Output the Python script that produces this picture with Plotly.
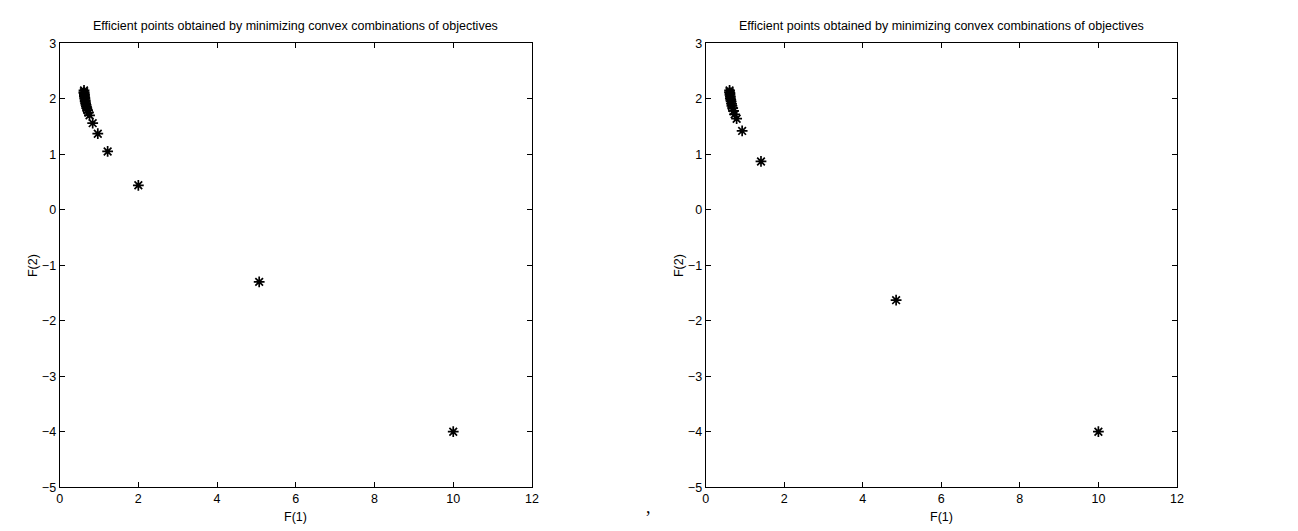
import plotly.graph_objects as go

# ---- data ----
left_f1 = [0.62, 0.62, 0.62, 0.63, 0.63, 0.63, 0.64, 0.64, 0.65, 0.65, 0.66, 0.67,
           0.68, 0.69, 0.71, 0.73, 0.76, 0.84, 0.97, 1.22, 2.0, 5.07, 10.0]
left_f2 = [2.15, 2.12, 2.10, 2.08, 2.06, 2.04, 2.02, 2.00, 1.97, 1.95, 1.92, 1.89,
           1.86, 1.83, 1.79, 1.75, 1.70, 1.56, 1.37, 1.05, 0.44, -1.30, -4.0]

right_f1 = [0.61, 0.61, 0.62, 0.62, 0.63, 0.63, 0.64, 0.65, 0.66, 0.67, 0.69, 0.71,
            0.74, 0.79, 0.93, 1.41, 4.85, 10.0]
right_f2 = [2.15, 2.12, 2.10, 2.07, 2.04, 2.01, 1.98, 1.95, 1.91, 1.87, 1.83, 1.78,
            1.72, 1.64, 1.42, 0.87, -1.63, -4.0]

x_ticks = [0, 2, 4, 6, 8, 10, 12]
y_ticks = [-5, -4, -3, -2, -1, 0, 1, 2, 3]
title_text = "Efficient points obtained by minimizing convex combinations of objectives"

W, H = 1298, 531
FONT = "Liberation Sans, Arial, sans-serif"
FS = 12.5

fig = go.Figure()
marker = dict(symbol="asterisk-open", size=9, color="black",
              line=dict(color="black", width=1.7))
fig.add_trace(go.Scatter(x=left_f1, y=left_f2, mode="markers", marker=marker,
                         xaxis="x", yaxis="y", showlegend=False))
fig.add_trace(go.Scatter(x=right_f1, y=right_f2, mode="markers", marker=marker,
                         xaxis="x2", yaxis="y2", showlegend=False))

y0, y1 = 1 - 485 / H, 1 - 29 / H
dom_l = [49 / W, 525 / W]
dom_r = [700 / W, 1175 / W]

axcommon = dict(showline=True, linecolor="black", linewidth=1, mirror="ticks",
                ticks="inside", ticklen=5, tickcolor="black", showgrid=False,
                zeroline=False, tickfont=dict(family=FONT, size=FS, color="black"))

fig.update_layout(
    width=W, height=H, margin=dict(l=0, r=0, t=0, b=0),
    paper_bgcolor="white", plot_bgcolor="white",
    xaxis=dict(domain=dom_l, range=[0, 12], tickvals=x_ticks, anchor="y", **axcommon),
    yaxis=dict(domain=[y0, y1], range=[-5, 3], tickvals=y_ticks, anchor="x", **axcommon),
    xaxis2=dict(domain=dom_r, range=[0, 12], tickvals=x_ticks, anchor="y2", **axcommon),
    yaxis2=dict(domain=[y0, y1], range=[-5, 3], tickvals=y_ticks, anchor="x2", **axcommon),
)

ann = []
for dom in (dom_l, dom_r):
    cx = (dom[0] + dom[1]) / 2
    ann.append(dict(text=title_text, x=cx, y=1 - 11 / H, xref="paper", yref="paper",
                    showarrow=False, font=dict(family=FONT, size=FS, color="black"),
                    xanchor="center", yanchor="middle"))
    ann.append(dict(text="F(1)", x=cx, y=1 - 516 / H, xref="paper", yref="paper",
                    showarrow=False, font=dict(family=FONT, size=FS, color="black"),
                    xanchor="center", yanchor="middle"))
    ann.append(dict(text="F(2)", x=(dom[0] * W - 27) / W, y=(y0 + y1) / 2,
                    xref="paper", yref="paper", textangle=-90, showarrow=False,
                    font=dict(family=FONT, size=FS, color="black"),
                    xanchor="center", yanchor="middle"))
ann.append(dict(text=",", x=642 / W, y=1 - 505 / H, xref="paper", yref="paper",
                showarrow=False, font=dict(family="Liberation Serif, Times New Roman, serif",
                                           size=18, color="black"),
                xanchor="center", yanchor="middle"))
fig.update_layout(annotations=ann)

fig.write_html("out.html")
